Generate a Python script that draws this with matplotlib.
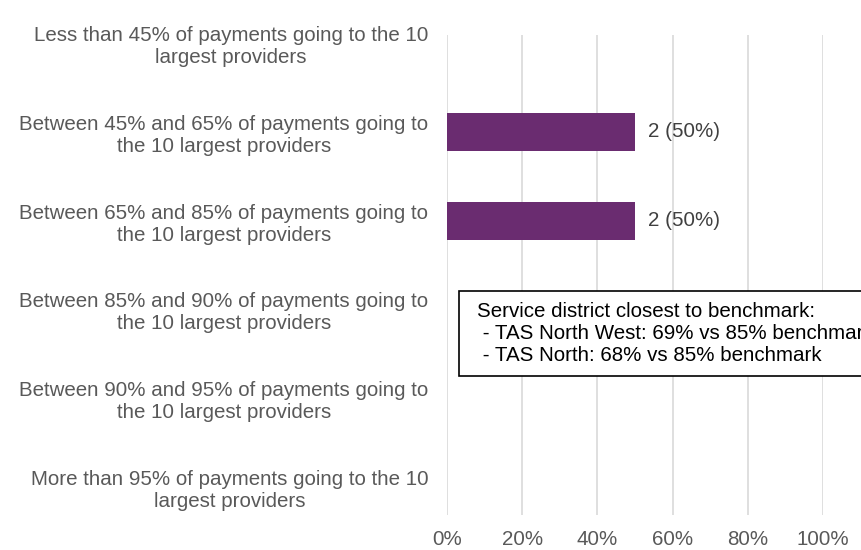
import matplotlib.pyplot as plt
from matplotlib.patches import Rectangle
from matplotlib.ticker import PercentFormatter

plt.rcParams["font.family"] = ["Liberation Sans", "DejaVu Sans"]

categories = [
    "Less than 45% of payments going to the 10\nlargest providers",
    "Between 45% and 65% of payments going to\nthe 10 largest providers",
    "Between 65% and 85% of payments going to\nthe 10 largest providers",
    "Between 85% and 90% of payments going to\nthe 10 largest providers",
    "Between 90% and 95% of payments going to\nthe 10 largest providers",
    "More than 95% of payments going to the 10\nlargest providers",
]
counts = [0, 2, 2, 0, 0, 0]
shares = [0.0, 0.5, 0.5, 0.0, 0.0, 0.0]
note_lines = [
    "Service district closest to benchmark:",
    " - TAS North West: 69% vs 85% benchmark",
    " - TAS North: 68% vs 85% benchmark",
]

fs = 14.8

fig = plt.figure(figsize=(8.62, 5.5), dpi=100)
ax = fig.add_axes([0.5186, 0.0636, 0.4362, 0.8728])

pos = list(range(len(categories)))
ax.barh(pos, shares, height=0.43, color="#6A2C70", zorder=3)
for y, c, s in zip(pos, counts, shares):
    if c > 0:
        ax.text(s + 0.035, y, f"{c} ({s:.0%})", va="center", ha="left",
                fontsize=fs, color="#404040")

ax.set_xlim(0, 1)
ax.set_ylim(5.315, -0.09)
ax.set_xticks([0, 0.2, 0.4, 0.6, 0.8, 1.0])
ax.xaxis.set_major_formatter(PercentFormatter(1.0, decimals=0))
ax.set_yticks(pos)
ax.set_yticklabels(categories, fontsize=fs, color="#595959", linespacing=1.2)
for lab in ax.get_yticklabels():
    lab.set_multialignment("center")
ax.tick_params(axis="x", labelsize=fs, labelcolor="#595959", length=0, pad=11)
ax.tick_params(axis="y", length=0, pad=13.5)
ax.grid(axis="x", color="#D9D9D9", linewidth=1.2, zorder=0)
for sp in ax.spines.values():
    sp.set_visible(False)

box = Rectangle((459 / 862, 1 - 376 / 550), 0.6, 85 / 550,
                transform=fig.transFigure, facecolor="white",
                edgecolor="black", linewidth=1.2, zorder=5)
fig.patches.append(box)
fig.text(477 / 862, 1 - 302 / 550, "\n".join(note_lines), fontsize=fs,
         color="black", va="top", ha="left", linespacing=1.2, zorder=6)

fig.savefig("out.png", dpi=100)
